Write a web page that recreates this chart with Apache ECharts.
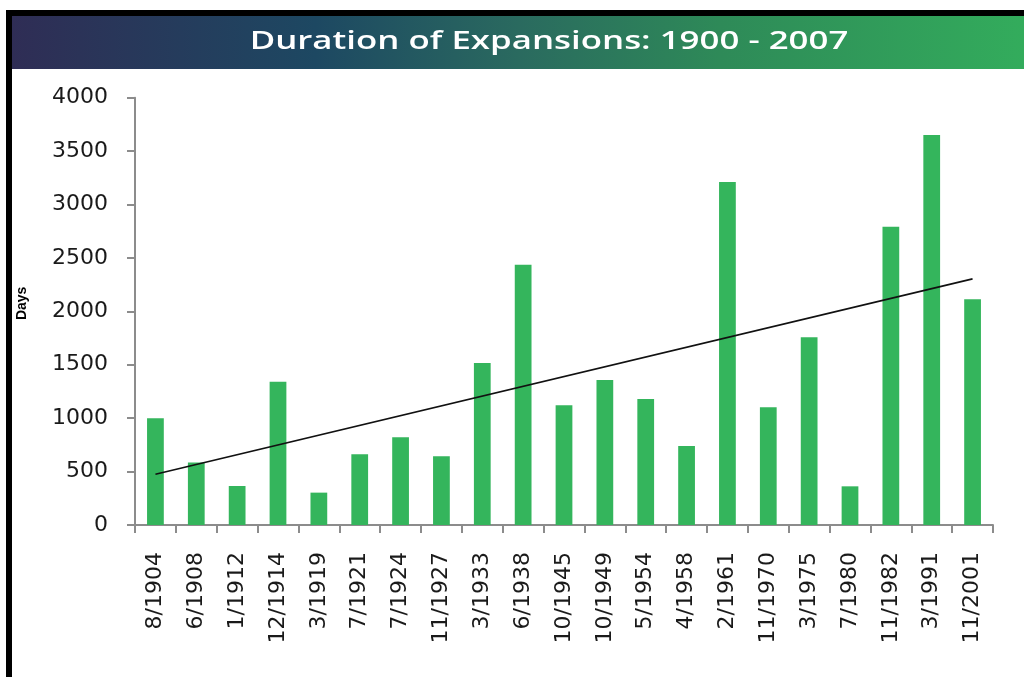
<!DOCTYPE html>
<html>
<head>
<meta charset="utf-8">
<script src="https://cdn.jsdelivr.net/npm/echarts@6/dist/echarts.min.js"></script>
<style>
html,body{margin:0;padding:0;background:#fff;}
#chart{width:1024px;height:677px;}
</style>
</head>
<body>
<div id="chart"></div>
<script>
const titleText = "Duration of Expansions: 1900 - 2007";
const categories = ["8/1904","6/1908","1/1912","12/1914","3/1919","7/1921","7/1924","11/1927","3/1933","6/1938","10/1945","10/1949","5/1954","4/1958","2/1961","11/1970","3/1975","7/1980","11/1982","3/1991","11/2001"];
const durationDays = [1000,584,365,1342,303,662,821,643,1517,2436,1121,1358,1180,740,3210,1102,1758,362,2792,3650,2114];
const trendStart = 475;
const trendEnd = 2304;
const yTicks = [0,500,1000,1500,2000,2500,3000,3500,4000];

const labelFont = "'DejaVu Sans', Verdana, sans-serif";
const chart = echarts.init(document.getElementById('chart'));
chart.setOption({
  animation: false,
  backgroundColor: '#ffffff',
  graphic: [
    { type: 'rect', left: 6, top: 10, shape: { width: 1018, height: 6 }, style: { fill: '#000' }, silent: true },
    { type: 'rect', left: 6, top: 10, shape: { width: 6, height: 667 }, style: { fill: '#000' }, silent: true },
    { type: 'rect', left: 12, top: 16, shape: { width: 1012, height: 53 },
      style: { fill: new echarts.graphic.LinearGradient(0, 0, 1, 0, [
        { offset: 0, color: '#2f2d55' },
        { offset: 0.3, color: '#1d4862' },
        { offset: 0.5, color: '#2a6a5f' },
        { offset: 0.7, color: '#2e8a58' },
        { offset: 1, color: '#33ac5c' }
      ]) }, silent: true },
    { type: 'text', x: 549, y: 42, scaleX: 1.34, originX: 0, originY: 0,
      style: { text: titleText, fill: '#ffffff', font: "600 26px 'Open Sans'", align: 'center', verticalAlign: 'middle' }, silent: true }
  ],
  grid: { left: 135, right: 31, top: 97.7, bottom: 152, containLabel: false },
  xAxis: {
    type: 'category',
    data: categories,
    boundaryGap: true,
    axisLine: { lineStyle: { color: '#8c8c8c', width: 2 } },
    axisTick: { show: true, length: 8, alignWithLabel: false, lineStyle: { color: '#8c8c8c', width: 2 } },
    axisLabel: { rotate: 90, interval: 0, margin: 27, color: '#1a1a1a', fontFamily: labelFont, fontSize: 22 },
    splitLine: { show: false }
  },
  yAxis: {
    type: 'value',
    min: yTicks[0], max: yTicks[yTicks.length - 1], interval: 500,
    name: 'Days', nameLocation: 'middle', nameRotate: 90, nameGap: 106,
    nameTextStyle: { fontFamily: "'Liberation Sans', Arial, sans-serif", fontWeight: 'bold', fontSize: 14, color: '#000', padding: [0, 0, 0, 16] },
    axisLine: { show: true, lineStyle: { color: '#8c8c8c', width: 2 } },
    axisTick: { show: true, length: 8, lineStyle: { color: '#8c8c8c', width: 2 } },
    axisLabel: { margin: 27, color: '#1a1a1a', fontFamily: labelFont, fontSize: 22, formatter: function (v) { return String(v); } },
    splitLine: { show: false }
  },
  series: [
    { type: 'bar', data: durationDays, barWidth: '41%', itemStyle: { color: '#34b55c' } },
    { type: 'line', data: [[categories[0], trendStart], [categories[categories.length - 1], trendEnd]],
      showSymbol: false, symbol: 'none', lineStyle: { color: '#111', width: 1.6 }, z: 5 }
  ]
});
</script>
</body>
</html>
